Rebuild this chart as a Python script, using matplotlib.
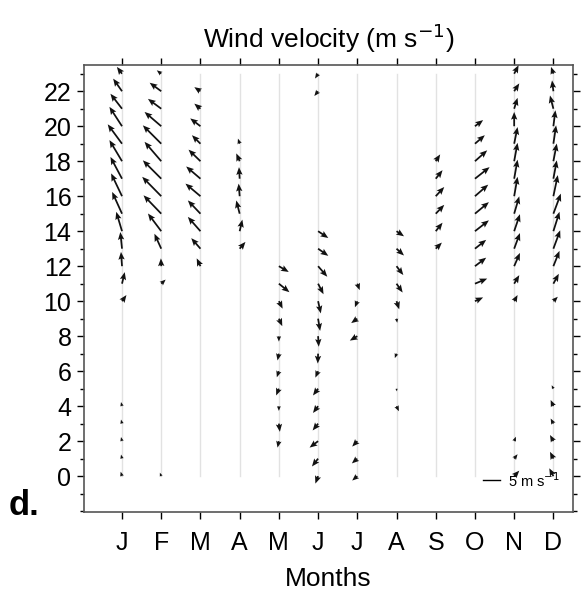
import numpy as np
import matplotlib
matplotlib.use("Agg")
import matplotlib.pyplot as plt
from matplotlib.ticker import MultipleLocator

plt.rcParams['font.family'] = ['Liberation Sans', 'DejaVu Sans']

N = np.nan
months = ['J', 'F', 'M', 'A', 'M', 'J', 'J', 'A', 'S', 'O', 'N', 'D']
hours = list(range(24))

# u (east) and v (north) components, m/s, for hours 0..23 (NaN = no data)
u_jan = [-0.4, -0.3, -0.3, -0.3, -0.3, N, N, N, N, N, 1.3, 0.8, -0.3, -0.5, -1.7, -2.9, -3.2, -3.4, -3.7, -4.2, -3.7, -3.4, -2.6, -1.5]
v_jan = [1.3, 1.2, 1.2, 1.2, 1.2, N, N, N, N, N, 1.8, 3.4, 4.2, 4.9, 5.7, 6.4, 6.7, 6.4, 6.2, 5.7, 5.7, 4.4, 3.7, 2.0]
u_feb = [-0.4, N, N, N, N, N, N, N, N, N, N, 1.3, -0.1, -2.0, -3.9, -5.2, -5.6, -5.4, -4.9, -5.4, -4.9, -3.9, -3.4, -1.3]
v_feb = [1.0, N, N, N, N, N, N, N, N, N, N, 1.2, 2.3, 4.4, 5.2, 5.4, 5.7, 5.4, 5.7, 5.4, 4.2, 2.9, 2.5, 1.0]
u_mar = [N, N, N, N, N, N, N, N, N, N, N, N, -1.1, -2.7, -3.7, -3.7, -4.4, -4.2, -3.5, -2.5, -3.0, -1.8, -1.8, N]
v_mar = [N, N, N, N, N, N, N, N, N, N, N, N, 2.3, 3.1, 4.2, 3.9, 3.7, 3.6, 3.4, 2.5, 2.3, 1.5, 1.2, N]
u_apr = [N, N, N, N, N, N, N, N, N, N, N, N, N, 1.7, 0.8, -1.0, -0.3, -0.2, -1.0, -0.5, N, N, N, N]
v_apr = [N, N, N, N, N, N, N, N, N, N, N, N, N, 2.0, 3.4, 3.9, 3.7, 3.4, 2.3, 1.5, N, N, N, N]
u_may = [N, N, -0.4, 0.3, 0.0, -0.8, -0.6, -0.4, 0.0, 1.0, 1.1, 3.1, 2.9, N, N, N, N, N, N, N, N, N, N, N]
v_may = [N, N, -1.9, -2.4, -1.4, -2.0, -1.8, -2.0, -1.6, -2.2, -2.2, -2.5, -1.7, N, N, N, N, N, N, N, N, N, N, N]
u_jun = [-0.8, -1.8, -2.5, -1.6, -1.5, -1.5, -0.8, -0.1, 0.2, 0.6, 0.8, 1.6, 2.7, 3.0, 3.0, N, N, N, N, N, N, N, -1.1, -0.9]
v_jun = [-2.2, -2.3, -1.9, -2.0, -2.0, -2.0, -1.9, -2.9, -3.1, -3.6, -3.6, -3.1, -3.1, -2.1, -2.0, N, N, N, N, N, N, N, -1.4, -1.4]
u_jul = [-1.5, -1.6, -1.5, N, N, N, N, N, -2.2, -1.8, -0.7, 0.7, N, N, N, N, N, N, N, N, N, N, N, N]
v_jul = [-1.3, -1.4, -1.6, N, N, N, N, N, -1.3, -1.3, -1.8, -1.9, N, N, N, N, N, N, N, N, N, N, N, N]
u_aug = [N, N, N, N, 0.7, 0.1, N, -0.5, N, 0.2, 0.8, 1.8, 2.0, 2.2, 2.2, N, N, N, N, N, N, N, N, N]
v_aug = [N, N, N, N, -1.5, -0.8, N, -1.3, N, -1.2, -2.4, -2.6, -2.6, -2.0, -1.5, N, N, N, N, N, N, N, N, N]
u_sep = [N, N, N, N, N, N, N, N, N, N, N, N, N, 1.8, 2.0, 2.5, 2.5, 2.0, 1.3, N, N, N, N, N]
v_sep = [N, N, N, N, N, N, N, N, N, N, N, N, N, 1.8, 2.5, 2.6, 2.7, 2.5, 2.0, N, N, N, N, N]
u_oct = [N, N, N, N, N, N, N, N, N, N, 2.4, 3.6, 3.3, 3.3, 4.1, 4.1, 3.9, 4.3, 3.6, 2.9, 2.4, N, N, N]
v_oct = [N, N, N, N, N, N, N, N, N, N, 1.1, 1.5, 2.5, 2.6, 3.2, 3.4, 3.4, 3.4, 3.2, 2.5, 1.8, N, N, N]
u_nov = [1.5, 1.0, 0.5, N, N, N, N, N, N, N, 1.0, 1.5, 1.7, 1.7, 1.7, 1.5, 1.0, 1.0, 1.0, 1.0, 0.0, 1.0, 1.5, 1.3]
v_nov = [1.6, 1.3, 1.3, N, N, N, N, N, N, N, 1.8, 2.5, 3.9, 4.6, 5.0, 5.1, 5.7, 5.6, 5.4, 4.9, 4.2, 3.2, 2.3, 2.5]
u_dec = [-1.2, -1.0, -1.0, -0.8, -0.8, -0.5, N, N, N, N, 1.3, 1.6, 1.8, 2.0, 1.8, 2.2, 1.3, 1.0, 1.0, 0.8, 0.6, -1.0, -0.4, -0.7]
v_dec = [2.3, 2.0, 1.8, 1.5, 1.8, 1.0, N, N, N, N, 1.3, 2.9, 4.5, 5.4, 5.7, 5.9, 6.2, 5.4, 5.2, 5.4, 4.7, 3.9, 3.2, 2.0]

U = np.array([u_jan, u_feb, u_mar, u_apr, u_may, u_jun, u_jul, u_aug, u_sep, u_oct, u_nov, u_dec], dtype=float)
V = np.array([v_jan, v_feb, v_mar, v_apr, v_may, v_jun, v_jul, v_aug, v_sep, v_oct, v_nov, v_dec], dtype=float)

fig = plt.figure(figsize=(5.86, 5.93), dpi=100)
ax = fig.add_axes([0.1433, 0.1366, 0.8345, 0.7538])

mpos = np.arange(1, 13)
for m in mpos:
    ax.plot([m, m], [0, 23], color='#e2e2e2', lw=1.0, zorder=1)

X, Y = np.meshgrid(mpos, hours, indexing='ij')
mask = ~np.isnan(U)
ax.quiver(X[mask], Y[mask], U[mask], V[mask], angles='uv', scale_units='inches',
          scale=29.4, width=0.0036, headwidth=3.6, headlength=4.4, headaxislength=3.8,
          color='#111111', zorder=3)

ax.set_xlim(0.03, 12.5)
ax.set_ylim(-2.05, 23.5)
ax.set_xticks(mpos)
ax.set_xticklabels(months)
ax.set_yticks(range(0, 23, 2))
ax.yaxis.set_minor_locator(MultipleLocator(1))
ax.tick_params(axis='both', which='major', labelsize=18, direction='out', length=5, width=1)
ax.tick_params(axis='y', which='minor', direction='out', length=3, width=1)
ax.tick_params(axis='x', top=True, pad=9)
ax.tick_params(axis='y', which='both', right=True, labelright=False, pad=4)
for s in ax.spines.values():
    s.set_color('#555555')
    s.set_linewidth(1.2)

ax.set_title('Wind velocity (m s$^{-1}$)', fontsize=19, pad=12)
ax.set_xlabel('Months', fontsize=19, labelpad=8)

# key
kx0 = 0.816
klen = 5 * 3.4 / (0.8345 * 586)
ax.plot([kx0, kx0 + klen], [0.0705, 0.0705], transform=ax.transAxes, color='black', lw=1.0, zorder=4)
ax.text(kx0 + klen + 0.016, 0.0705, '5 m s$^{-1}$', transform=ax.transAxes, fontsize=10.5,
        va='center', ha='left')

fig.text(0.015, 0.148, 'd.', fontsize=25, fontweight='bold', ha='left', va='center')

fig.savefig('out.png', dpi=100)
